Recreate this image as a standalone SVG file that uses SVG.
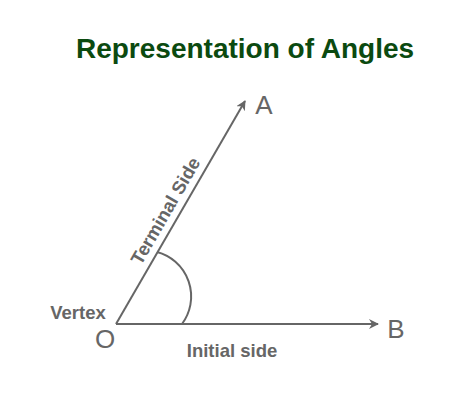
<svg xmlns="http://www.w3.org/2000/svg" width="474" height="402" viewBox="0 0 474 402">
<defs>
<style>
.ln{stroke:#666;stroke-width:2;fill:none}
.lbl{font-family:"Liberation Sans",Arial,sans-serif;fill:#666}
.b{font-weight:bold;font-size:18.5px}
.big{font-size:26px}
</style>
<marker id="ah" viewBox="0 0 10 10" refX="9" refY="5" markerWidth="5" markerHeight="5" orient="auto" markerUnits="strokeWidth">
<path d="M0,0 L10,5 L0,10 L3,5 Z" fill="#666"/>
</marker>
</defs>
<rect width="474" height="402" fill="#fff"/>
<text x="245" y="58" text-anchor="middle" font-family="'Liberation Sans',Arial,sans-serif" font-weight="bold" font-size="28" fill="#0b4a10">Representation of Angles</text>
<g id="connectors">
<line class="ln" x1="116" y1="324" x2="378" y2="324" marker-end="url(#ah)"/>
<line class="ln" x1="116" y1="324" x2="245" y2="101" marker-end="url(#ah)"/>
<path class="ln" d="M157,252 A46,46 0 0 1 182,324"/>
</g>
<g id="A"><text class="lbl big" x="264" y="114" text-anchor="middle">A</text></g>
<g id="B"><text class="lbl big" x="396" y="338" text-anchor="middle">B</text></g>
<g id="O"><text class="lbl big" x="105" y="348" text-anchor="middle">O</text></g>
<g id="vertex"><text class="lbl b" x="78" y="319" text-anchor="middle">Vertex</text></g>
<g id="initial"><text class="lbl b" x="232" y="357" text-anchor="middle">Initial side</text></g>
<g id="terminal"><text class="lbl b" transform="translate(171,214) rotate(-60)" text-anchor="middle">Terminal Side</text></g>
</svg>
